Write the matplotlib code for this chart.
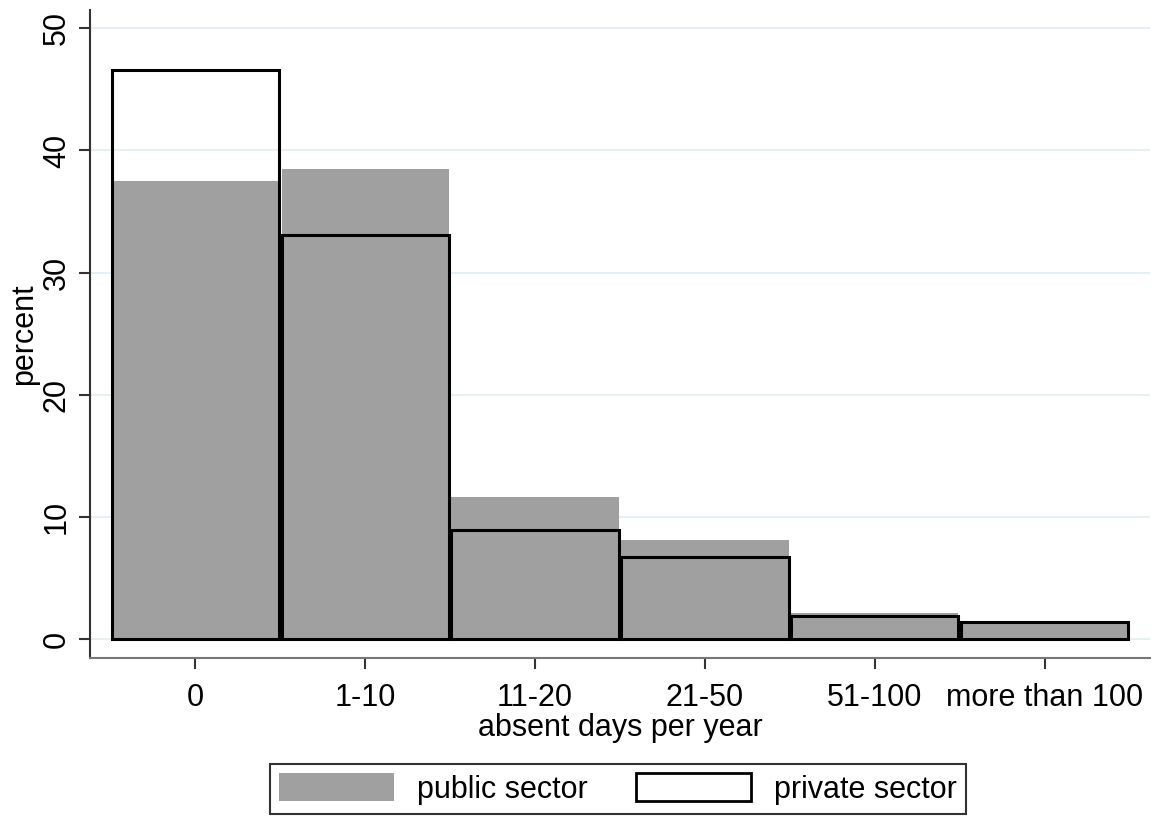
import numpy as np
import matplotlib.pyplot as plt
from matplotlib.patches import Patch

plt.rcParams['font.family'] = ['Liberation Sans', 'DejaVu Sans']

categories = ["0", "1-10", "11-20", "21-50", "51-100", "more than 100"]
public = [37.5, 38.5, 11.6, 8.1, 2.1, 1.4]
private = [46.6, 33.1, 8.9, 6.7, 1.9, 1.4]

x = np.arange(len(categories))
w = 0.985
fs = 22

fig = plt.figure(figsize=(11.54, 8.16), dpi=100)
ax = fig.add_axes([90/1154, 158/816, 1060/1154, 648/816])

for yv in range(0, 51, 10):
    ax.axhline(yv, color="#e6eff1", lw=1.5, zorder=0)

ax.bar(x, public, width=w, color="#a0a0a0", edgecolor="none", zorder=2)
ax.bar(x, private, width=w, facecolor="none", edgecolor="black", lw=2.2, zorder=3)

ax.set_xlim(-0.62, 5.62)
ax.set_ylim(-1.55, 51.5)
ax.set_xticks(x)
ax.set_xticklabels(categories, fontsize=fs)
ax.set_yticks(range(0, 51, 10))
ax.set_yticklabels([str(v) for v in range(0, 51, 10)], fontsize=fs, rotation=90, va="center")
ax.tick_params(axis="both", direction="out", length=8, width=1.5, color="#333333")
ax.tick_params(axis="y", pad=5)
ax.tick_params(axis="x", pad=10)

for s in ["top", "right"]:
    ax.spines[s].set_visible(False)
ax.spines["left"].set_color("#333333")
ax.spines["left"].set_linewidth(1.5)
ax.spines["bottom"].set_color("#777777")
ax.spines["bottom"].set_linewidth(1.5)

ax.set_xlabel("absent days per year", fontsize=fs, labelpad=0)
ax.set_ylabel("percent", fontsize=fs, labelpad=2)

handles = [Patch(facecolor="#a0a0a0", edgecolor="none"),
           Patch(facecolor="white", edgecolor="black", lw=2)]
leg = fig.legend(handles, ["public sector", "private sector"], ncol=2,
                 loc="center", bbox_to_anchor=(618/1154, 1 - 789/816),
                 fontsize=fs, frameon=True, fancybox=False, edgecolor="black",
                 handlelength=3.75, handleheight=1.0, columnspacing=1.6,
                 handletextpad=0.75, borderpad=0.3)
leg.get_frame().set_linewidth(1.5)

fig.savefig("out.png", dpi=100)
